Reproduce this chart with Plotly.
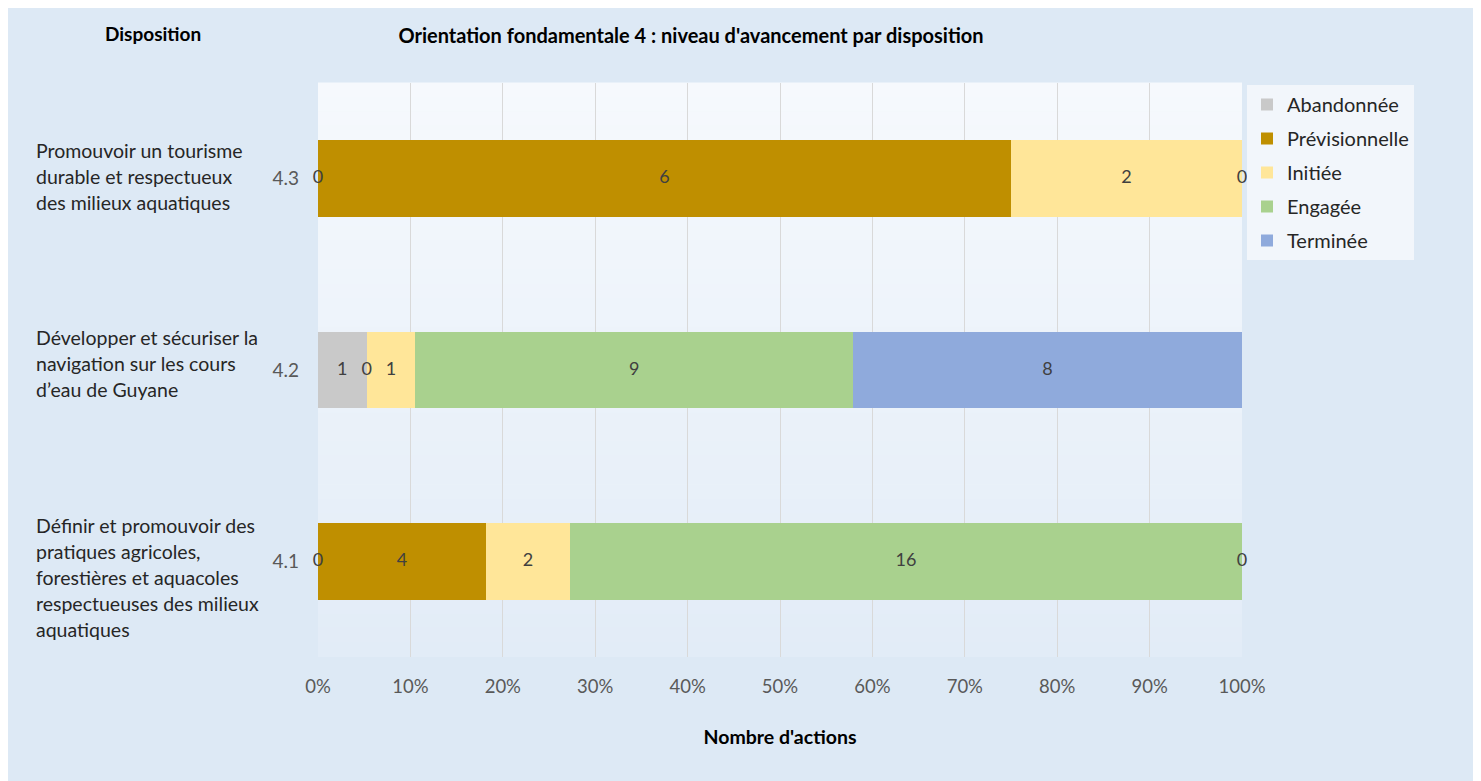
import numpy as np
import plotly.graph_objects as go

# ---------------- data ----------------
categories = ["4.1", "4.2", "4.3"]
descriptions = [
    ["Définir et promouvoir des", "pratiques agricoles,", "forestières et aquacoles",
     "respectueuses des milieux", "aquatiques"],
    ["Développer et sécuriser la", "navigation sur les cours", "d’eau de Guyane"],
    ["Promouvoir un tourisme", "durable et respectueux", "des milieux aquatiques"],
]
series_names = ["Abandonnée", "Prévisionnelle", "Initiée", "Engagée", "Terminée"]
abandonnee = [0, 1, 0]
previsionnelle = [4, 0, 6]
initiee = [2, 1, 2]
engagee = [16, 9, 0]
terminee = [0, 8, None]
x_tick_vals = [0, 0.1, 0.2, 0.3, 0.4, 0.5, 0.6, 0.7, 0.8, 0.9, 1.0]

# ---------------- style ----------------
colors = ["#c9c9c9", "#bf8f00", "#ffe699", "#a9d18e", "#8faadc"]
FONT = "Lato"
desc_block_offset = [16, -7, -2]   # px downward shift of each description block
line_step = 26

series_values = [abandonnee, previsionnelle, initiee, engagee, terminee]

fig = go.Figure()

# plot-area vertical gradient (styling only)
top = np.array([246, 249, 253])
bot = np.array([226, 236, 247])
n_strip = 40
for i in range(n_strip):
    c = top + (bot - top) * (i + 0.5) / n_strip
    fig.add_shape(type="rect", xref="x domain", yref="y domain",
                  x0=0, x1=1, y0=1 - (i + 1) / n_strip, y1=1 - i / n_strip + 0.001,
                  fillcolor="rgb(%d,%d,%d)" % tuple(c.round()), line_width=0, layer="below")

for name, vals, col in zip(series_names, series_values, colors):
    fig.add_trace(go.Bar(
        name=name, y=categories, x=vals, orientation="h",
        marker=dict(color=col, line=dict(width=0)),
        legendgroup=name, hoverinfo="skip",
    ))

# data labels at the middle of each segment (normalised like the bars)
arr = np.array([[np.nan if v is None else v for v in s] for s in series_values], dtype=float)
totals = np.nansum(arr, axis=0)
cum = np.zeros(len(categories))
lx, ly, lt = [], [], []
for s in range(arr.shape[0]):
    for c in range(arr.shape[1]):
        v = arr[s, c]
        if np.isnan(v):
            continue
        frac = v / totals[c]
        lx.append(cum[c] + frac / 2)
        ly.append(categories[c])
        lt.append(str(int(v)))
        cum[c] += frac
fig.add_trace(go.Scatter(
    x=lx, y=ly, text=lt, mode="text", showlegend=False, hoverinfo="skip",
    textfont=dict(family=FONT, size=18, color="#404040"), cliponaxis=False,
))

# descriptions on the left (category index positions)
for idx, (lines, off) in enumerate(zip(descriptions, desc_block_offset)):
    n = len(lines)
    for i, line in enumerate(lines):
        fig.add_annotation(
            x=-0.3074, xref="paper", y=idx, yref="y", xanchor="left", yanchor="middle",
            text=line, showarrow=False, align="left",
            yshift=((n - 1) / 2 - i) * line_step - off,
            font=dict(family=FONT, size=19.5, color="#262626"),
        )

fig.add_annotation(
    x=-0.1786, xref="paper", y=1.0854, yref="paper", text="<b>Disposition</b>",
    showarrow=False, xanchor="center", yanchor="middle",
    font=dict(family=FONT, size=19, color="#000000"),
)

fig.update_layout(
    width=1466, height=773,
    margin=dict(l=310, r=232, t=75, b=124),
    paper_bgcolor="#dde9f5",
    plot_bgcolor="#eef4fa",
    barmode="stack", barnorm="fraction", bargap=0.6,
    font=dict(family=FONT, color="#595959"),
    title=dict(
        text="<b>Orientation fondamentale 4 : niveau d'avancement par disposition</b>",
        x=0.4659, y=0.9638, xref="container", yref="container",
        xanchor="center", yanchor="middle",
        font=dict(family=FONT, size=20, color="#000000"),
    ),
    xaxis=dict(
        range=[0, 1], tickvals=x_tick_vals, tickformat=".0%",
        showgrid=True, gridcolor="#d9d9d9", gridwidth=1, zeroline=False, showline=False,
        tickfont=dict(family=FONT, size=18.5, color="#595959"), ticklabelstandoff=16,
        title=dict(text="<b>Nombre d'actions</b>", standoff=34,
                   font=dict(family=FONT, size=19.5, color="#000000")),
        fixedrange=True,
    ),
    yaxis=dict(
        type="category", categoryorder="array", categoryarray=categories,
        range=[-0.5, 2.5], autorange=False,
        showgrid=False, zeroline=False, showline=False,
        tickfont=dict(family=FONT, size=19, color="#595959"), ticklabelstandoff=18,
        fixedrange=True,
    ),
    legend=dict(
        x=1.0054, y=0.9965, xanchor="left", yanchor="top",
        bgcolor="#f2f6fb", borderwidth=0,
        traceorder="grouped", tracegroupgap=5,
        font=dict(family=FONT, size=20, color="#262626"),
    ),
    showlegend=True,
)

fig.write_html("out.html")
